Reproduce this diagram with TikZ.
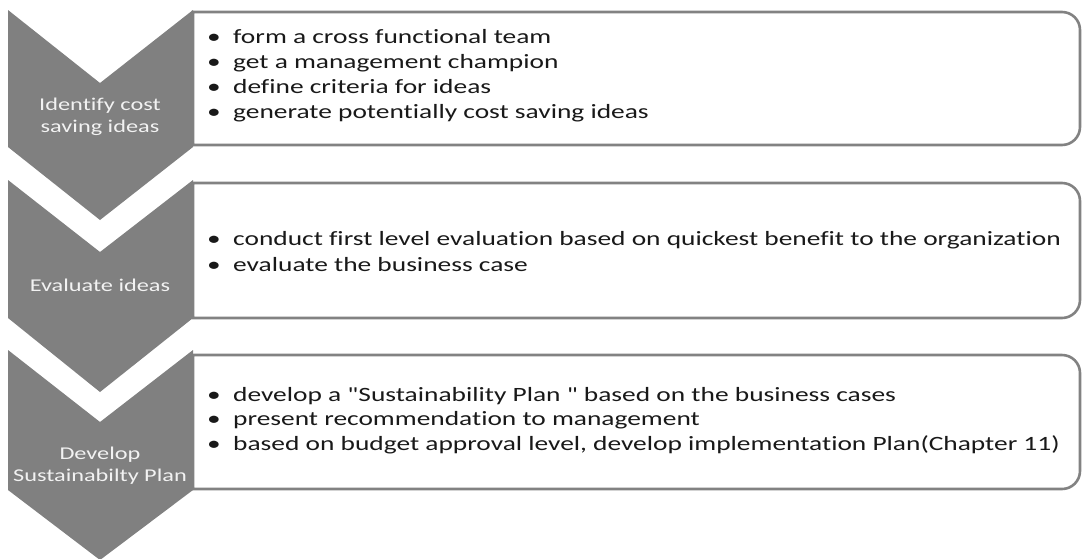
\documentclass[tikz,border=0pt]{standalone}
\usepackage{fontspec}
\setmainfont{Carlito}[FakeStretch=1.35,Ligatures={TeXOff,CommonOff}]
\definecolor{chevgray}{RGB}{128,128,128}
\definecolor{edgegray}{RGB}{130,130,130}
\definecolor{labelwhite}{RGB}{242,242,242}
\definecolor{bodytext}{RGB}{25,25,25}
\newcommand{\bul}[1]{\makebox[26pt][l]{•}#1}
\begin{document}
\begin{tikzpicture}[x=1pt,y=-1pt,
  chevron/.style={fill=chevgray,draw=none},
  panel/.style={draw=edgegray,line width=2.6pt,fill=white},
  steplabel/.style={align=center,text=labelwhite,inner sep=0pt,
    font=\fontsize{18}{22}\selectfont},
  item/.style={anchor=base west,inner sep=0pt,text=bodytext,
    font=\fontsize{20.3}{25}\selectfont}]
\useasboundingbox (0,0) rectangle (1082,558);

% text panels, flat on the left and rounded on the right
\draw[panel] (193,12) -- (1062,12) arc[start angle=-90,end angle=0,radius=18]
  -- (1080,127) arc[start angle=0,end angle=90,radius=18] -- (193,145) -- cycle;
\draw[panel] (193,183) -- (1062,183) arc[start angle=-90,end angle=0,radius=18]
  -- (1080,300) arc[start angle=0,end angle=90,radius=18] -- (193,318) -- cycle;
\draw[panel] (193,355) -- (1062,355) arc[start angle=-90,end angle=0,radius=18]
  -- (1080,471) arc[start angle=0,end angle=90,radius=18] -- (193,489) -- cycle;

% downward chevrons
\fill[chevron] (8,10) -- (100,83) -- (193,10) -- (193,147) -- (100,220) -- (8,147) -- cycle;
\fill[chevron] (8,180) -- (100,252) -- (193,180) -- (193,318) -- (100,392) -- (8,318) -- cycle;
\fill[chevron] (8,350) -- (100,422) -- (193,350) -- (193,490) -- (100,560) -- (8,490) -- cycle;

% step names
\node[steplabel] (s1) at (100,117) {Identify cost\\saving ideas};
\node[steplabel] (s2) at (100,285) {Evaluate ideas};
\node[steplabel] (s3) at (100,466) {Develop\\Sustainabilty Plan};

% step details
\node[item] (i11) at (207,43) {\bul{form a cross functional team}};
\node[item] (i12) at (207,68) {\bul{get a management champion}};
\node[item] (i13) at (207,93) {\bul{define criteria for ideas}};
\node[item] (i14) at (207,118) {\bul{generate potentially cost saving ideas}};

\node[item] (i21) at (207,245) {\bul{conduct first level evaluation based on quickest benefit to the organization}};
\node[item] (i22) at (207,271) {\bul{evaluate the business case}};

\node[item] (i31) at (207,401) {\bul{develop a "Sustainability Plan " based on the business cases}};
\node[item] (i32) at (207,425) {\bul{present recommendation to management}};
\node[item] (i33) at (207,450) {\bul{based on budget approval level, develop implementation Plan(Chapter 11)}};
\end{tikzpicture}
\end{document}
